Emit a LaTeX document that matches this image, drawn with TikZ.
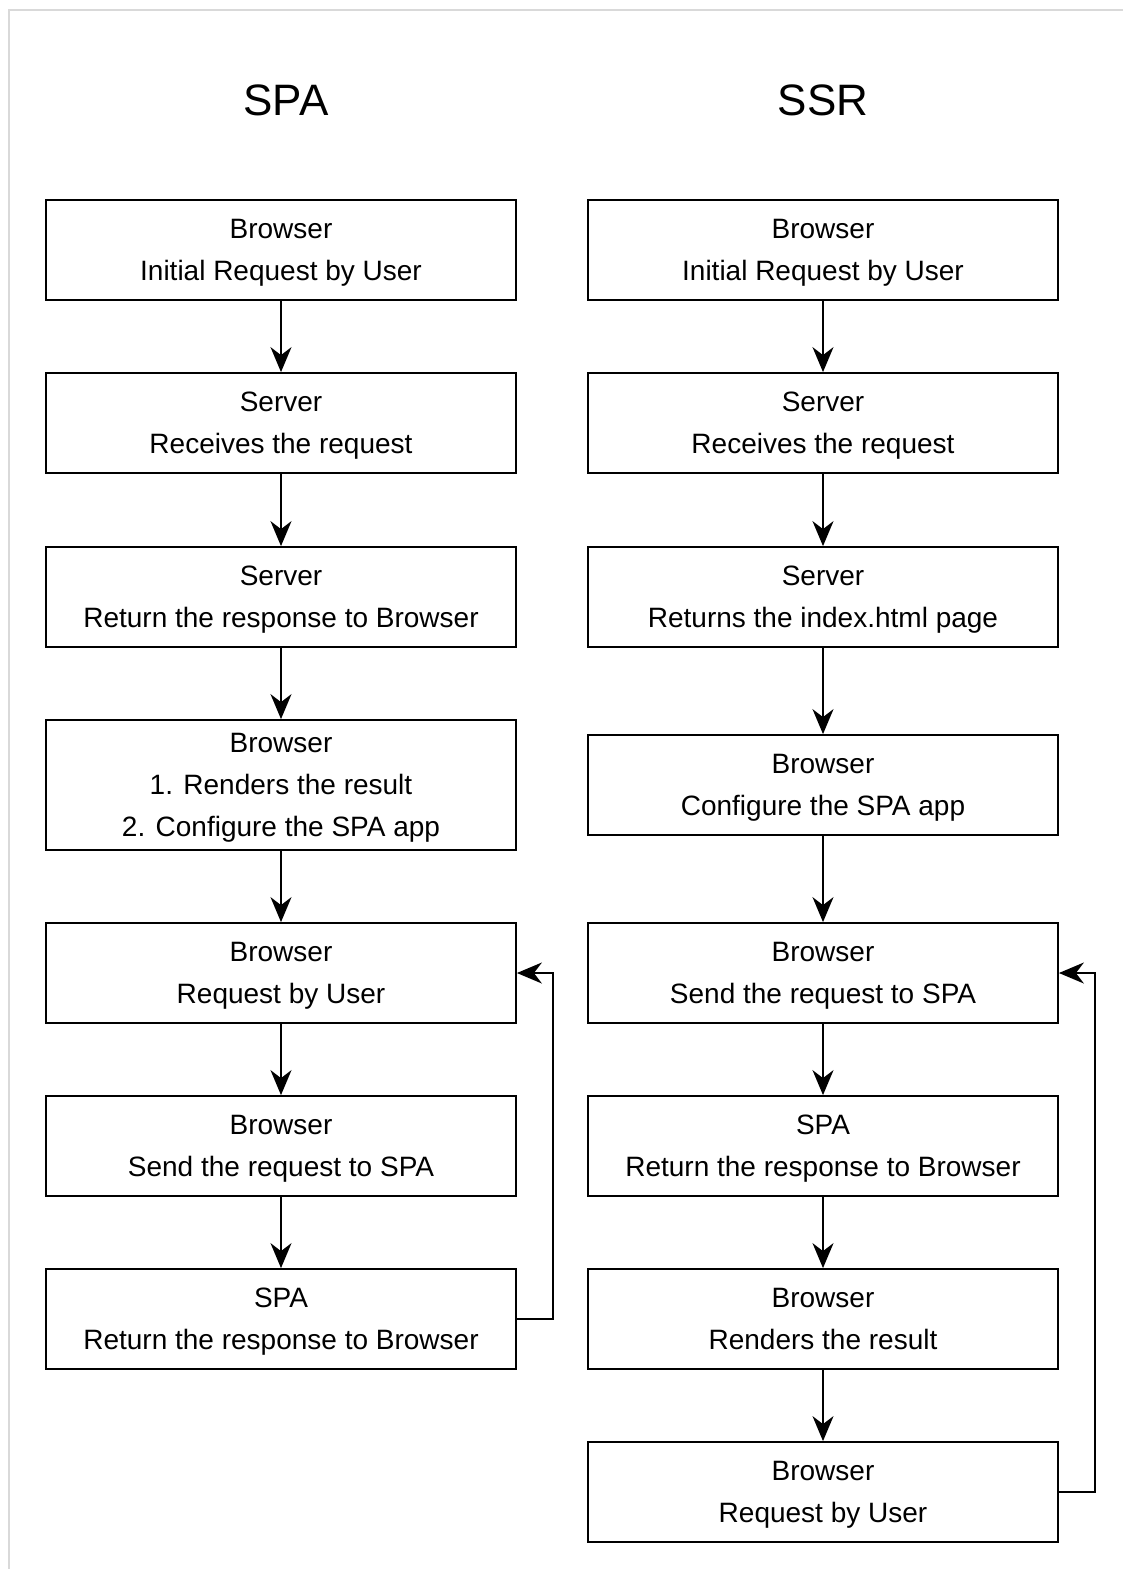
\documentclass[tikz,border=0pt]{standalone}
\usepackage{fontspec}
\setmainfont{Liberation Sans}
\usetikzlibrary{arrows.meta}

\begin{document}
\begin{tikzpicture}[x=1pt, y=-1pt,
	stepbox/.style={draw=black, line width=1.8, minimum width=470, minimum height=100,
		align=center, text depth=-7pt, font=\fontsize{28}{42}\selectfont},
	flow/.style={draw=black, line width=1.8, -{Stealth[length=25pt, width=21pt, inset=8pt]}},
	title/.style={font=\fontsize{44}{50}\selectfont}]

\useasboundingbox (0,0) rectangle (1123,1569);
\draw[black!15, line width=2] (9,1569) -- (9,10) -- (1123,10);

% titles
\node[title] (spatitle) at (286,100) {SPA};
\node[title] (ssrtitle) at (823,100) {SSR};

% SPA column
\foreach \i/\y/\h/\txt in {
	1/250/100/{Browser\\Initial Request by User},
	2/423/100/{Server\\Receives the request},
	3/597/100/{Server\\Return the response to Browser},
	4/785/130/{Browser\\1. Renders the result\\2. Configure the SPA app},
	5/973/100/{Browser\\Request by User},
	6/1146/100/{Browser\\Send the request to SPA},
	7/1319/100/{SPA\\Return the response to Browser}}{
	\node[stepbox, minimum height=\h] (spa\i) at (281,\y) {\txt};
}
\foreach[evaluate={\j=int(\i+1)}] \i in {1,...,6}{
	\draw[flow] (spa\i) -- (spa\j);
}
\draw[flow] (spa7.east) -- ++(36,0) |- (spa5.east);

% SSR column
\foreach \i/\y/\txt in {
	1/250/{Browser\\Initial Request by User},
	2/423/{Server\\Receives the request},
	3/597/{Server\\Returns the index.html page},
	4/785/{Browser\\Configure the SPA app},
	5/973/{Browser\\Send the request to SPA},
	6/1146/{SPA\\Return the response to Browser},
	7/1319/{Browser\\Renders the result},
	8/1492/{Browser\\Request by User}}{
	\node[stepbox] (ssr\i) at (823,\y) {\txt};
}
\foreach[evaluate={\j=int(\i+1)}] \i in {1,...,7}{
	\draw[flow] (ssr\i) -- (ssr\j);
}
\draw[flow] (ssr8.east) -- ++(36,0) |- (ssr5.east);

\end{tikzpicture}
\end{document}
